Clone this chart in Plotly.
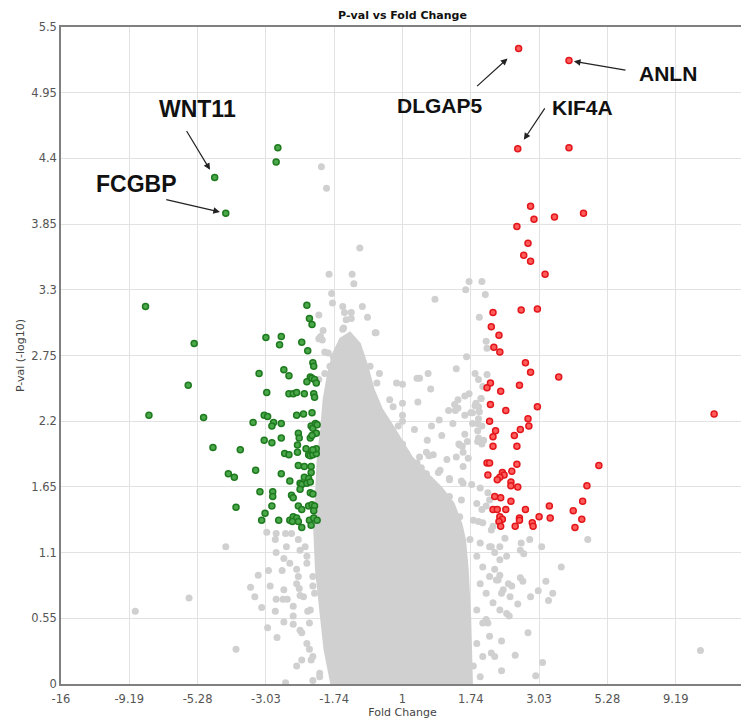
import plotly.graph_objects as go

# ---------------- data (log2 fold change, -log10 p) ----------------
down_fc = [-1.46, -1.48, -2.20, -2.07, -3.01, -2.44, -1.60, -1.42, -1.44, -1.12, -1.09, -1.06, -1.18, -1.11,
           -2.51, -2.97, -2.33, -2.22, -1.90, -2.04, -1.97, -1.95, -1.72, -1.67, -1.75, -1.68, -1.59, -1.39,
           -1.33, -1.05, -1.04, -1.08, -1.12, -1.06, -1.03, -1.01, -1.33, -1.28, -1.24, -1.15, -1.04, -1.03,
           -1.62, -1.58, -1.51, -1.53, -1.42, -1.24, -1.16, -1.06, -1.07, -1.05, -1.02, -1.00, -1.01, -1.08,
           -1.06, -1.62, -1.53, -1.42, -1.22, -1.21, -1.23, -1.13, -1.23, -1.38, -1.33, -1.10, -1.08, -1.05,
           -1.01, -1.01, -1.05, -1.22, -1.15, -1.07, -1.07, -1.42, -1.32, -1.15, -1.10, -1.20, -1.18, -1.12,
           -1.08, -1.20, -1.08, -1.05, -1.52, -1.52, -1.30, -1.28, -1.53, -1.22, -1.18, -1.10, -1.06, -1.03,
           -1.04, -1.61, -1.65, -1.45, -1.32, -1.28, -1.24, -1.22, -1.29, -1.18, -1.09, -1.04, -1.00, -1.07]
down_p = [4.49, 4.37, 4.24, 3.94, 3.16, 2.85, 2.90, 2.91, 2.84, 3.17, 3.06, 3.01, 2.86, 2.79,
          2.50, 2.25, 2.23, 1.98, 1.96, 1.76, 1.73, 1.48, 1.79, 1.61, 2.19, 2.60, 2.44, 2.63,
          2.58, 2.69, 2.66, 2.57, 2.53, 2.56, 2.55, 2.52, 2.43, 2.43, 2.44, 2.43, 2.43, 2.40,
          2.25, 2.24, 2.19, 2.16, 2.18, 2.25, 2.26, 2.27, 2.16, 2.14, 2.18, 2.17, 2.10, 2.06,
          2.08, 2.04, 2.02, 2.06, 2.10, 2.06, 2.00, 1.97, 1.94, 1.93, 1.92, 1.92, 1.91, 1.92,
          1.93, 1.97, 1.96, 1.83, 1.82, 1.82, 1.77, 1.76, 1.70, 1.73, 1.72, 1.68, 1.67, 1.68,
          1.69, 1.63, 1.60, 1.59, 1.61, 1.57, 1.58, 1.56, 1.49, 1.49, 1.46, 1.49, 1.50, 1.49,
          1.45, 1.43, 1.37, 1.37, 1.37, 1.40, 1.39, 1.36, 1.36, 1.31, 1.37, 1.39, 1.37, 1.33]

up_fc = [1.36, 1.95, 1.35, 1.95, 1.50, 1.54, 1.78, 2.12, 1.34, 1.47, 1.42, 1.50, 1.67, 1.06, 1.39, 1.58,
         1.04, 1.13, 1.07, 1.14, 1.44, 1.50, 1.83, 1.03, 0.99, 1.37, 1.15, 1.03, 1.21, 1.58, 1.02, 1.09,
         1.47, 1.48, 1.38, 1.06, 1.06, 1.31, 1.34, 0.99, 1.02, 1.34, 1.00, 1.28, 1.17, 1.19, 1.14, 1.11,
         1.27, 1.27, 1.35, 2.30, 2.16, 2.11, 1.72, 2.00, 2.10, 2.02, 1.60, 1.73, 1.08, 1.15, 1.27, 1.06,
         1.11, 1.21, 1.44, 1.14, 1.17, 1.13, 1.15, 1.37, 1.37, 1.32, 1.52, 1.53, 3.65]
up_p = [5.32, 5.22, 4.48, 4.49, 4.00, 3.89, 3.91, 3.94, 3.83, 3.69, 3.59, 3.54, 3.43, 3.11, 3.13, 3.14,
        2.99, 2.92, 2.82, 2.78, 2.69, 2.61, 2.57, 2.52, 2.48, 2.50, 2.45, 2.34, 2.29, 2.32, 2.20, 2.12,
        2.22, 2.16, 2.13, 2.07, 1.99, 2.08, 1.99, 1.85, 1.85, 1.84, 1.75, 1.78, 1.77, 1.75, 1.73, 1.71,
        1.69, 1.66, 1.65, 1.83, 1.66, 1.53, 1.49, 1.45, 1.38, 1.31, 1.40, 1.39, 1.57, 1.56, 1.53, 1.46,
        1.46, 1.46, 1.46, 1.40, 1.38, 1.36, 1.32, 1.39, 1.37, 1.32, 1.35, 1.32, 2.26]

# dense core of non-significant genes (outline of the solid grey cloud)
core_fc = [-0.81, -0.89, -0.94, -0.99, -1.01, -0.99, -0.97, -0.93, -0.90, -0.85, -0.79, -0.71, -0.62, -0.52,
           -0.44, -0.36, -0.26, -0.15, -0.03, 0.09, 0.26, 0.44, 0.58, 0.67, 0.71, 0.74, 0.77, 0.79]
core_p = [0.00, 0.29, 0.62, 0.96, 1.29, 1.63, 1.88, 2.13, 2.38, 2.59, 2.76, 2.88, 2.92, 2.84,
          2.67, 2.46, 2.29, 2.17, 2.04, 1.89, 1.76, 1.63, 1.50, 1.33, 1.20, 0.96, 0.54, 0.00]

ns_fc = [-0.95, -0.89, -0.50, -0.86, -0.59, -0.57, -0.83, -0.82, -0.70, -0.68, -0.60, -0.60, -0.66, -0.47,
         -0.41, -0.32, -0.98, -0.70, -0.93, -0.96, -0.98, -0.94, -0.71, -0.31, -0.69, -0.91, -0.87, -0.78,
         -0.62, 0.78, 0.93, 0.74, 0.97, 0.38, 0.90, 0.98, 0.99, 0.75, 0.63, 0.17, 0.99, 0.94, 0.00, 0.33,
         0.78, 0.73, 0.65, 0.92, 0.18, 0.86, 0.89, 0.90, 0.54, 0.62, 0.80, 0.73, 0.00, 0.43, 0.89, 0.88,
         0.59, 0.82, 0.34, 0.88, 0.46, 0.29, 0.76, 0.66, 0.70, 0.88, 0.93, 0.00, 0.14, 0.93, 0.89, 0.95,
         0.73, 0.67, 0.71, 0.77, -0.21, -0.15, -0.12, 0.07, 0.17, 0.22, 0.28, 0.31, 0.42, 0.55, 0.69, 0.81,
         0.91, 1.00, 1.02, 0.93, 0.89, 1.04, 1.20, 1.39, 1.49, 1.63, 1.86, 2.17, 1.68, 1.59, 1.71, 1.76,
         1.50, 1.35, 1.38, 1.41, 1.24, 1.28, 1.22, 1.25, 1.47, 1.16, 1.32, 1.16, 1.64, 1.56, 3.49, 1.04,
         1.08, 1.08, 1.14, 1.12, 1.16, 1.26, 1.22, 1.38, 1.42, 0.20, 0.30, 0.98, 1.00, 1.04, 1.08, 0.85,
         0.89, 0.61, 0.65, 0.92, 0.85, 0.82,
         -2.07, -2.50, -3.13, -1.95, -1.37, -1.05, -1.59, -1.48, -1.37, -1.30, -1.49, -1.36, -1.22, -1.48,
         -1.39, -1.32, -1.57, -1.69, -1.41, -1.78, -1.55, -1.39, -1.73, -1.65, -1.48, -1.40, -1.35, -1.49,
         -1.28, -1.58, -1.47, -1.39, -1.28, -1.18, -1.21, -1.20, -1.24, -1.22, -1.14, -1.12, -1.09, -1.07,
         -1.18, -0.97, -1.11, -1.09, -1.05, -1.03, -0.98, -0.91, -0.85, -0.81, -0.77, -0.70, -0.70, -0.58,
         -0.62, -0.38, -0.27, -0.30, -0.07, -0.15, -0.11, -0.27, -0.05, -0.09, 0.05, -0.03, 0.09, -0.81,
         -0.58, -0.60, -0.50, -0.66, -0.85, -0.65, -0.54, -0.42, -0.34, -0.30, -0.46, -0.38, -0.26, -0.19,
         -0.34,
         0.05, 0.20, 0.36, 0.52, 0.63, 0.71, 0.44, 0.28, 0.13, 0.55, 0.71, 0.09, 0.24, 0.40, 0.55, 0.69,
         0.87, 0.98, 0.20, 0.36, 0.52, 0.67, 0.83, 0.94, 1.06, 0.13, 0.32, 0.48, 0.63, 0.79, 0.91, 1.02,
         1.14, 0.87, 0.94, 1.02, 0.91, 0.98, 1.06, 0.87, 0.94, 1.02, 0.87, 0.94, 0.83, 0.91, 1.14, 1.10,
         1.18, 1.14, -1.20, -1.12, -1.05, -1.24, -1.16, -1.08, -1.28, -1.20, -1.12, -1.05, -1.24, -0.97,
         0.00, 0.00, 0.00, 0.00]
ns_p = [4.33, 4.15, 3.65, 3.43, 3.43, 3.35, 3.27, 3.19, 3.16, 3.11, 3.11, 3.06, 3.05, 3.16,
        3.07, 2.94, 3.09, 2.97, 2.96, 2.91, 2.89, 2.88, 2.86, 2.94, 2.98, 2.78, 2.77, 2.75,
        2.71, 3.37, 3.37, 3.30, 3.26, 3.22, 3.07, 2.87, 2.81, 2.74, 2.64, 2.56, 2.59, 2.49, 2.51, 2.47,
        2.43, 2.41, 2.38, 2.39, 2.36, 2.35, 2.32, 2.28, 2.29, 2.29, 2.27, 2.25, 2.25, 2.21, 2.22, 2.18,
        2.18, 2.18, 2.16, 2.12, 2.08, 2.04, 2.03, 2.01, 1.99, 2.03, 2.01, 2.01, 2.13, 2.16, 2.06, 2.04,
        2.09, 2.00, 1.94, 1.89, 1.95, 1.96, 1.92, 1.90, 1.85, 1.81, 1.94, 1.91, 1.77, 1.72, 1.70, 1.67,
        1.64, 1.60, 1.54, 1.46, 1.36, 1.29, 1.22, 1.18, 1.21, 1.15, 0.98, 1.21, 0.86, 0.78, 0.70, 0.76,
        0.73, 0.67, 0.89, 0.86, 0.84, 0.82, 0.59, 0.57, 0.43, 0.36, 0.24, 0.11, 0.18, 0.07, 0.28, 0.26,
        0.23, 0.96, 0.91, 0.87, 0.76, 0.73, 1.07, 1.12, 1.09, 2.56, 2.60, 0.54, 0.51, 1.15, 1.10, 2.60,
        2.55, 2.34, 2.31, 2.39, 2.33, 2.27,
        1.15, 0.72, 0.61, 0.29, 0.01, 0.03, 1.27, 1.26, 1.26, 1.26, 1.21, 1.15, 1.21, 1.10,
        1.05, 1.01, 0.95, 0.91, 0.95, 0.81, 0.82, 0.79, 0.73, 0.64, 0.71, 0.71, 0.71, 0.61,
        0.65, 0.47, 0.39, 0.52, 0.50, 0.43, 0.80, 0.74, 0.96, 0.90, 1.15, 1.07, 0.29, 0.20,
        0.20, 0.09, 0.61, 0.51, 0.82, 0.76, 2.55, 2.60, 2.66, 2.43, 2.38, 2.49, 2.69, 2.63,
        2.57, 2.66, 2.60, 2.52, 2.52, 2.38, 2.32, 2.27, 2.16, 1.96, 1.88, 1.82, 1.74, 2.74,
        2.71, 2.63, 2.60, 2.57, 2.43, 2.46, 2.41, 2.41, 2.29, 2.21, 2.10, 2.02, 1.99, 1.93,
        1.88,
        1.93, 1.90, 1.92, 1.88, 1.90, 1.82, 1.79, 1.76, 1.74, 1.71, 1.68, 1.60, 1.57, 1.60, 1.57, 1.54,
        1.51, 1.49, 1.43, 1.43, 1.40, 1.40, 1.37, 1.35, 1.32, 1.29, 1.26, 1.26, 1.23, 1.21, 1.18, 1.15,
        1.15, 1.07, 0.98, 0.90, 0.84, 0.76, 0.68, 0.62, 0.51, 0.40, 0.34, 0.23, 0.15, 0.06, 1.04, 0.87,
        0.79, 0.62, 1.12, 1.01, 0.90, 0.84, 0.73, 0.62, 0.57, 0.45, 0.34, 0.23, 0.15, 0.06,
        2.35, 2.20, 1.80, 1.65]

gene_names = ["WNT11", "FCGBP", "DLGAP5", "ANLN", "KIF4A"]
gene_fc = [-2.20, -2.07, 1.36, 1.95, 1.35]
gene_p = [4.24, 3.94, 5.32, 5.22, 4.48]

x_tickvals = [-4, -3.2, -2.4, -1.6, -0.8, 0, 0.8, 1.6, 2.4, 3.2, 4]
x_ticktext = ["-16", "-9.19", "-5.28", "-3.03", "-1.74", "1", "1.74", "3.03", "5.28", "9.19", "16"]
y_tickvals = [0, 0.55, 1.1, 1.65, 2.2, 2.75, 3.3, 3.85, 4.4, 4.95, 5.5]
y_ticktext = ["0", "0.55", "1.1", "1.65", "2.2", "2.75", "3.3", "3.85", "4.4", "4.95", "5.5"]

# ---------------- figure ----------------
GREY = "#d0d0d0"
fig = go.Figure()

fig.add_trace(go.Scatter(x=core_fc, y=core_p, mode="lines", fill="toself",
                         fillcolor=GREY, line=dict(color=GREY, width=6),
                         hoverinfo="skip", showlegend=False))
fig.add_trace(go.Scatter(x=ns_fc, y=ns_p, mode="markers",
                         marker=dict(size=7, color=GREY, line=dict(width=0)),
                         showlegend=False))
fig.add_trace(go.Scatter(x=down_fc, y=down_p, mode="markers",
                         marker=dict(size=6, color="#4aa84a", line=dict(color="#1e7a1e", width=1.5)),
                         showlegend=False))
fig.add_trace(go.Scatter(x=up_fc, y=up_p, mode="markers",
                         marker=dict(size=6, color="#ff5c5c", line=dict(color="#e3161b", width=1.5)),
                         showlegend=False))

# arrow tail offsets (px), standoff, label shifts (px), font size
arrow_style = {
    "WNT11": dict(ax=-29, ay=-48, standoff=9, xs=-17, ys=69, fs=23),
    "FCGBP": dict(ax=-61, ay=-14, standoff=6, xs=-89, ys=29, fs=23),
    "DLGAP5": dict(ax=-43, ay=39, standoff=15, xs=-79, ys=-57, fs=21),
    "ANLN": dict(ax=58, ay=10, standoff=5, xs=99, ys=-13, fs=21),
    "KIF4A": dict(ax=28, ay=-42, standoff=11, xs=65, ys=41, fs=21),
}
for name, gx, gy in zip(gene_names, gene_fc, gene_p):
    s = arrow_style[name]
    fig.add_annotation(x=gx, y=gy, xref="x", yref="y", text="", showarrow=True,
                       ax=s["ax"], ay=s["ay"], standoff=s["standoff"],
                       arrowhead=2, arrowsize=1.1, arrowwidth=1.2, arrowcolor="#222222")
    fig.add_annotation(x=gx, y=gy, xref="x", yref="y", text="<b>%s</b>" % name, showarrow=False,
                       xshift=s["xs"], yshift=s["ys"],
                       font=dict(family="Liberation Sans, Arial, sans-serif", size=s["fs"], color="#111111"))

# page body has an 8px default margin, so the figure is 8px smaller and offset
fig.update_layout(
    width=741, height=713,
    margin=dict(l=53, r=5, t=19, b=37, autoexpand=False),
    paper_bgcolor="white", plot_bgcolor="white",
    title=dict(text="<b>P-val vs Fold Change</b>", x=0.5, xref="paper", xanchor="center",
               y=0.9895, yanchor="middle",
               font=dict(family="DejaVu Sans, sans-serif", size=11, color="#111111")),
    font=dict(family="DejaVu Sans, sans-serif", size=12, color="#555555"),
)
fig.update_xaxes(range=[-4, 4], tickvals=x_tickvals, ticktext=x_ticktext,
                 showgrid=True, gridcolor="#e2e2e2", gridwidth=1, zeroline=False,
                 showline=True, linecolor="#808080", linewidth=1.5, mirror=True, ticks="",
                 automargin=False, ticklabelstandoff=3,
                 tickfont=dict(size=11.5, color="#555555"),
                 title=dict(text="Fold Change", font=dict(size=11, color="#444444"), standoff=3))
fig.update_yaxes(range=[0, 5.5], tickvals=y_tickvals, ticktext=y_ticktext,
                 showgrid=True, gridcolor="#e2e2e2", gridwidth=1, zeroline=False,
                 showline=True, linecolor="#808080", linewidth=1.5, mirror=True, ticks="",
                 automargin=False,
                 tickfont=dict(size=11.5, color="#555555"),
                 title=dict(text="P-val (-log10)", font=dict(size=11, color="#444444"), standoff=4))

fig.write_html("out.html")
